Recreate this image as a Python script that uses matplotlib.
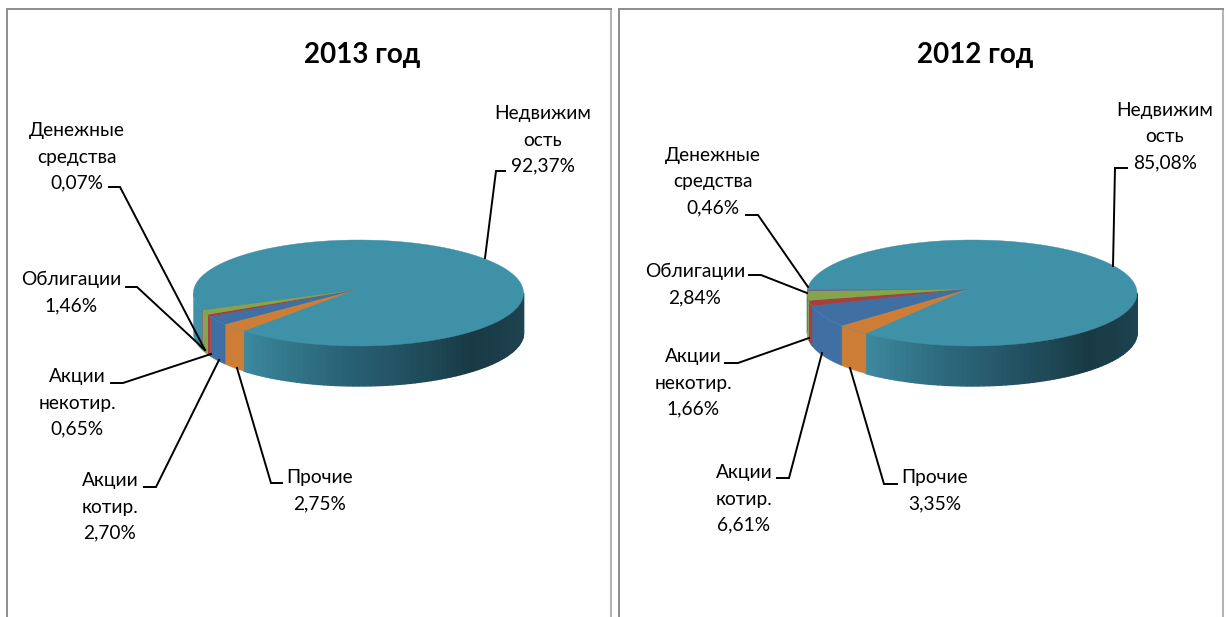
import numpy as np
from matplotlib import pyplot as plt
from matplotlib.colors import LinearSegmentedColormap
from matplotlib.patches import Polygon

plt.rcParams['font.family'] = ['Lato', 'Open Sans', 'DejaVu Sans']

# chart data, slices go clockwise from the big one
titles = ['2013 год', '2012 год']
categories = ['Прочие', 'Акции\nкотир.', 'Акции\nнекотир.', 'Облигации', 'Денежные\nсредства']
main_category = 'Недвижим\nость'
values_2013 = [2.75, 2.70, 0.65, 1.46, 0.07]
values_2012 = [3.35, 6.61, 1.66, 2.84, 0.46]
main_2013 = 92.37
main_2012 = 85.08

# colours
teal = '#3f91a8'
slice_colors = ['#cd7d35', '#3f6fa3', '#a83f3f', '#86a44a', '#7d6090']
wall_cmap = LinearSegmentedColormap.from_list('wall', [(0, '#1f4652'), (0.35, '#183a45'), (0.72, '#2a6478'), (1, '#3d8aa0')])

# layout in pixels of the picture
panels = [(7, 611), (619, 1223)]
centers = [(358.5, 293), (972, 293)]
apexes = [(355, 290), (968, 289)]
starts = [134, 130]
title_x = [362, 975]
rx, ry, depth = 165, 53, 40

# text centre (x, y) of every label, main one last
label_pos = [
    [(320, 491), (110, 507), (77, 403), (71, 293), (77, 157), (543, 140)],
    [(935, 491), (744, 499), (693, 383), (695, 285), (713, 182), (1165, 137)],
]
# leader: tick start, tick end, point on the pie
leaders = [
    [[(282, 483), (271, 483), (237, 368)], [(144, 487), (156, 487), (219, 360)],
     [(111, 383), (123, 383), (211, 354)], [(126, 287), (137, 287), (205, 350)],
     [(109, 187), (120, 187), (205, 350)], [(505, 171), (496, 171), (485, 258)]],
    [[(897, 484), (884, 484), (850, 368)], [(777, 478), (789, 478), (822, 353)],
     [(725, 363), (738, 363), (809, 338)], [(749, 275), (761, 275), (807, 293)],
     [(746, 215), (758, 215), (808, 287)], [(1127, 168), (1115, 168), (1113, 266)]],
]


def arc(center, a0, a1, shift=0):
    t = np.radians(np.linspace(a0, a1, max(int(abs(a1 - a0)) * 2, 2)))
    return np.column_stack([center[0] + rx * np.cos(t), center[1] + ry * np.sin(t) + shift])


def wall(ax, center, a0, a1, color, edge_width=0.3):
    top = arc(center, a0, a1)
    bottom = arc(center, a0, a1, depth)
    ax.add_patch(Polygon(np.vstack([top, bottom[::-1]]), facecolor=color, edgecolor=color, linewidth=edge_width))


def draw_pie(ax, n, values, main):
    center = centers[n]
    apex = apexes[n]
    start = starts[n]
    total = sum(values) + main
    angles = start + np.cumsum([0] + values) / total * 360

    # back part of the left wall
    wall(ax, center, angles[-1], 180, teal)

    # big slice wall, cut in strips for the gradient
    edges = np.arange(0, start + 2, 2.0)
    for a0 in edges[:-1]:
        a1 = min(a0 + 2, start)
        if a1 > a0:
            wall(ax, center, a0, a1, wall_cmap(a0 / start), edge_width=1.0)

    for i in range(len(values)):
        wall(ax, center, angles[i], angles[i + 1], slice_colors[i])

    # top faces
    ax.add_patch(Polygon(arc(center, 0, 360), facecolor=teal, edgecolor=teal, linewidth=0.3))
    for i in range(len(values)):
        points = np.vstack([[apex], arc(center, angles[i], angles[i + 1])])
        ax.add_patch(Polygon(points, facecolor=slice_colors[i], edgecolor='none'))

    names = categories + [main_category]
    numbers = values + [main]
    for i in range(len(names)):
        text = names[i] + '\n' + ('%.2f%%' % numbers[i]).replace('.', ',')
        x, y = label_pos[n][i]
        ax.text(x, y, text, ha='center', va='center', fontsize=13.8, color='#000000', linespacing=1.66)
        line = np.array(leaders[n][i])
        ax.plot(line[:, 0], line[:, 1], color='black', linewidth=1.4, solid_joinstyle='miter')

    ax.text(title_x[n], 55.5, titles[n], ha='center', va='center', fontsize=20, fontweight='bold', color='black')


fig = plt.figure(figsize=(12.26, 6.17), dpi=100)
ax = fig.add_axes([0, 0, 1, 1])
ax.set_xlim(0, 1226)
ax.set_ylim(617, 0)
ax.axis('off')

for left, right in panels:
    ax.plot([right, right], [8.5, 617], color='#b4b4b4', linewidth=1.5)
    ax.plot([left, left, right], [617, 8.5, 8.5], color='#8c8c8c', linewidth=1.4, solid_joinstyle='miter')

draw_pie(ax, 0, values_2013, main_2013)
draw_pie(ax, 1, values_2012, main_2012)

plt.savefig('out.png', dpi=100)
